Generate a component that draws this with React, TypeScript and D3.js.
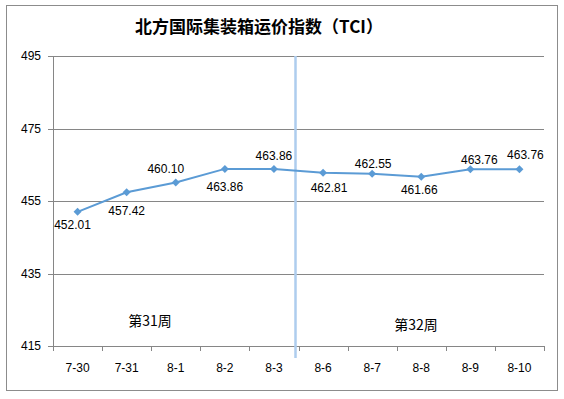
import React from "react";
import * as d3 from "d3";

const categories = ["7-30", "7-31", "8-1", "8-2", "8-3", "8-6", "8-7", "8-8", "8-9", "8-10"];
const values = [452.01, 457.42, 460.1, 463.86, 463.86, 462.81, 462.55, 461.66, 463.76, 463.76];
const yTicks = [415, 435, 455, 475, 495];
const weekLabels = ["第31周", "第32周"];

// label offsets relative to point (dx, baseline dy)
const labelOffsets: [number, number][] = [
  [-5, 17], [0, 23], [-10, -10], [0, 22], [0, -9],
  [6, 19], [1, -6], [-2, 17], [9, -5], [6, -10],
];

const W = 564, H = 399;
const left = 53, right = 544, top = 56, bottom = 346;

export default function App() {
  const x = d3.scaleBand<string>().domain(categories).range([left, right]);
  const y = d3.scaleLinear().domain([415, 495]).range([bottom, top]);
  const cx = (c: string) => (x(c) as number) + x.bandwidth() / 2;
  const line = d3.line<number>().x((_, i) => cx(categories[i])).y((v) => y(v));
  const sepX = (x(categories[5]) as number) - 3;
  const font = "'Liberation Sans', Arial, sans-serif";
  const lineColor = "#5B9BD5";
  const grid = "#868686";
  return (
    <svg width={W} height={H} style={{ position: "absolute", left: 0, top: 0, background: "#fff" }}>
      <rect x={6.5} y={5.5} width={551} height={385} fill="#fff" stroke="#8c8c8c" strokeWidth={1} />
      <text x={259} y={33} textAnchor="middle" fontSize={17} fontWeight="bold" fontFamily="'Noto Sans CJK SC', sans-serif" fill="#000">
        北方国际集装箱运价指数（TCI）
      </text>
      {yTicks.map((t) => (
        <g key={t}>
          <line x1={left - 5} x2={right} y1={Math.round(y(t)) + 0.5} y2={Math.round(y(t)) + 0.5} stroke={grid} strokeWidth={1} />
          <text x={41} y={y(t) + 4} textAnchor="end" fontSize={12} fontFamily={font} fill="#000">{t}</text>
        </g>
      ))}
      <line x1={left + 0.5} x2={left + 0.5} y1={top} y2={bottom} stroke={grid} strokeWidth={1} />
      {categories.concat([""]).map((c, i) => {
        const xx = Math.round(left + i * x.bandwidth()) + 0.5;
        return <line key={i} x1={xx} x2={xx} y1={bottom} y2={bottom + 5} stroke={grid} strokeWidth={1} />;
      })}
      {categories.map((c) => (
        <text key={c} x={cx(c)} y={372} textAnchor="middle" fontSize={12} fontFamily={font} fill="#000">{c}</text>
      ))}
      <line x1={sepX} x2={sepX} y1={top} y2={358} stroke="#AECDEE" strokeWidth={2.5} />
      <path d={line(values) as string} fill="none" stroke={lineColor} strokeWidth={2} />
      {values.map((v, i) => {
        const px = cx(categories[i]);
        const py = y(v);
        return (
          <g key={i}>
            <path d={`M${px},${py - 4}L${px + 4},${py}L${px},${py + 4}L${px - 4},${py}Z`} fill={lineColor} />
            <text x={px + labelOffsets[i][0]} y={py + labelOffsets[i][1]} textAnchor="middle" fontSize={12} fontFamily={font} fill="#000">
              {v.toFixed(2)}
            </text>
          </g>
        );
      })}
      <text x={150} y={326} textAnchor="middle" fontSize={14} fontFamily="'Noto Sans CJK SC', sans-serif" fill="#000">{weekLabels[0]}</text>
      <text x={416} y={330} textAnchor="middle" fontSize={14} fontFamily="'Noto Sans CJK SC', sans-serif" fill="#000">{weekLabels[1]}</text>
    </svg>
  );
}
